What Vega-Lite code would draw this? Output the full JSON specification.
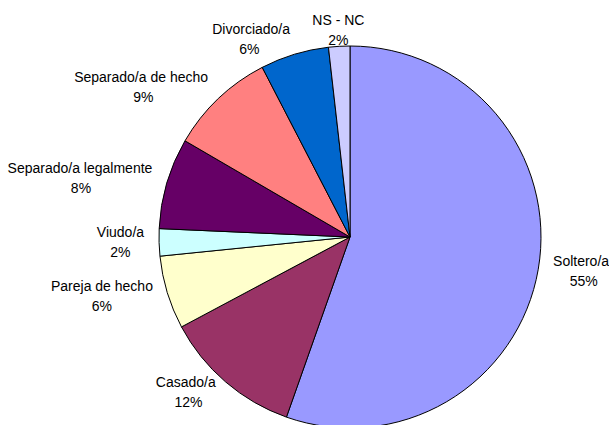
{
  "$schema": "https://vega.github.io/schema/vega-lite/v6.json",
  "width": 370,
  "height": 370,
  "autosize": {"type": "none"},
  "padding": {"left": 165, "top": 52, "right": 74, "bottom": 3},
  "background": "white",
  "config": {"view": {"stroke": null}},
  "data": {
    "values": [
      {"estado": "Soltero/a", "share": 0.554},
      {"estado": "Casado/a", "share": 0.118},
      {"estado": "Pareja de hecho", "share": 0.062},
      {"estado": "Viudo/a", "share": 0.023},
      {"estado": "Separado/a legalmente", "share": 0.077},
      {"estado": "Separado/a de hecho", "share": 0.090},
      {"estado": "Divorciado/a", "share": 0.058},
      {"estado": "NS - NC", "share": 0.018}
    ]
  },
  "transform": [{"window": [{"op": "row_number", "as": "orden"}]}],
  "encoding": {
    "theta": {"field": "share", "type": "quantitative", "stack": true},
    "order": {"field": "orden", "type": "quantitative"}
  },
  "layer": [
    {
      "mark": {"type": "arc", "outerRadius": 191, "stroke": "black", "strokeWidth": 1},
      "encoding": {
        "color": {
          "field": "estado",
          "type": "nominal",
          "scale": {
            "domain": ["Soltero/a", "Casado/a", "Pareja de hecho", "Viudo/a", "Separado/a legalmente", "Separado/a de hecho", "Divorciado/a", "NS - NC"],
            "range": ["#9999FF", "#993366", "#FFFFCC", "#CCFFFF", "#660066", "#FF8080", "#0066CC", "#CCCCFF"]
          },
          "legend": null
        }
      }
    },
    {
      "mark": {
        "type": "text",
        "radius": 206,
        "dy": -10,
        "font": "Liberation Sans",
        "fontSize": 14,
        "color": "black",
        "baseline": "middle",
        "align": {"expr": "(datum.share_start + datum.share_end) / 2 > 0.97 || (datum.share_start + datum.share_end) / 2 < 0.03 ? 'center' : ((datum.share_start + datum.share_end) / 2 < 0.5 ? 'left' : 'right')"}
      },
      "encoding": {"text": {"field": "estado", "type": "nominal"}}
    },
    {
      "mark": {
        "type": "text",
        "radius": 206,
        "dy": 10,
        "dx": {"expr": "((datum.share_start + datum.share_end) / 2 > 0.97 || (datum.share_start + datum.share_end) / 2 < 0.03 ? 0 : ((datum.share_start + datum.share_end) / 2 < 0.5 ? 1 : -1)) * 3.4 * length(datum.estado)"},
        "font": "Liberation Sans",
        "fontSize": 14,
        "color": "black",
        "baseline": "middle",
        "align": "center"
      },
      "encoding": {"text": {"field": "share", "type": "quantitative", "format": ".0%"}}
    }
  ]
}
